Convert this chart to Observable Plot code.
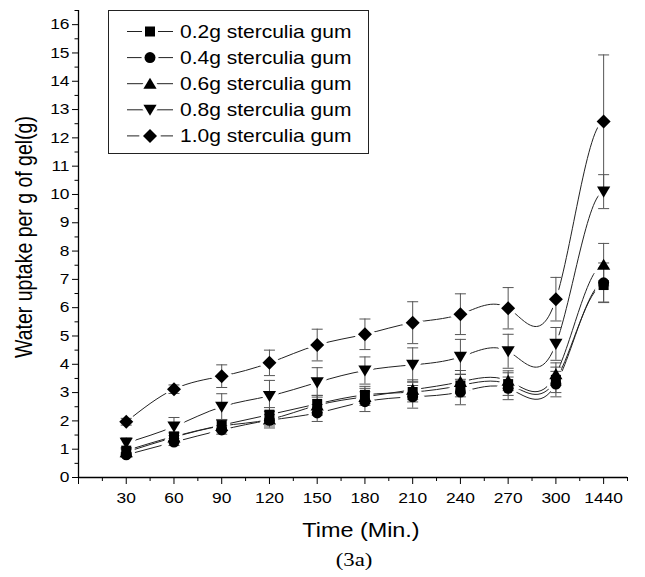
<!DOCTYPE html>
<html><head><meta charset="utf-8">
<script src="https://cdn.jsdelivr.net/npm/d3@7"></script>
<script src="https://cdn.jsdelivr.net/npm/@observablehq/plot@0.6"></script>
<style>
body{margin:0;background:#fff;font-family:"Liberation Sans",Arial,sans-serif}
#wrap{position:relative;width:645px}
#legend{position:absolute;left:108px;top:10px}
#cap{position:relative;width:645px;height:32px;font-family:"Liberation Serif","Times New Roman",serif;font-size:19px}
#cap span{position:absolute;left:354px;top:4px;transform:translateX(-50%) scaleX(1.2)}
</style>
</head><body>
<div id="wrap"></div>
<div id="cap"><span>(3a)</span></div>
<script>
// ---- data ----
const times = ["30","60","90","120","150","180","210","240","270","300","1440"];
const seriesNames = ["0.2g sterculia gum","0.4g sterculia gum","0.6g sterculia gum","0.8g sterculia gum","1.0g sterculia gum"];
const v02 = [0.95,1.45,1.85,2.22,2.60,2.92,3.02,3.25,3.30,3.45,6.80];
const e02 = [0.10,0.15,0.20,0.25,0.30,0.30,0.35,0.40,0.40,0.45,0.60];
const v04 = [0.80,1.25,1.68,2.02,2.28,2.68,2.85,3.02,3.15,3.30,6.88];
const e04 = [0.08,0.12,0.15,0.20,0.30,0.35,0.40,0.45,0.40,0.45,0.70];
const v06 = [0.90,1.42,1.82,2.05,2.55,2.85,3.10,3.38,3.42,3.65,7.52];
const e06 = [0.10,0.15,0.20,0.30,0.35,0.30,0.35,0.40,0.35,0.40,0.75];
const v08 = [1.22,1.80,2.50,2.88,3.36,3.78,3.98,4.26,4.46,4.72,10.10];
const e08 = [0.18,0.32,0.46,0.55,0.52,0.48,0.60,0.62,0.60,0.58,0.60];
const v10 = [1.97,3.12,3.58,4.05,4.68,5.06,5.47,5.77,5.98,6.30,12.58];
const e10 = [0.12,0.15,0.40,0.45,0.56,0.54,0.74,0.72,0.73,0.77,2.35];
const yTicks = d3.range(0,17);
const xTickLabels = [""].concat(times);

// ---- spline curve (natural start, zero-slope end) ----
function splineSlopes(X, Y) {
  const n = X.length, a = new Array(n).fill(0), b = new Array(n).fill(0), c = new Array(n).fill(0), r = new Array(n).fill(0);
  const d = i => (Y[i+1]-Y[i])/(X[i+1]-X[i]);
  b[0] = 2; c[0] = 1; r[0] = 3*d(0);
  for (let i = 1; i < n-1; i++) {
    const h0 = X[i]-X[i-1], h1 = X[i+1]-X[i];
    a[i] = 1/h0; b[i] = 2*(1/h0+1/h1); c[i] = 1/h1; r[i] = 3*(d(i-1)/h0 + d(i)/h1);
  }
  b[n-1] = 1; a[n-1] = 0; r[n-1] = 0;
  for (let i = 1; i < n; i++) { const w = a[i]/b[i-1]; b[i] -= w*c[i-1]; r[i] -= w*r[i-1]; }
  const m = new Array(n);
  m[n-1] = r[n-1]/b[n-1];
  for (let i = n-2; i >= 0; i--) m[i] = (r[i]-c[i]*m[i+1])/b[i];
  return m;
}
function SplineCurve(ctx){ this._context = ctx; }
SplineCurve.prototype = {
  areaStart(){ this._line = 0; }, areaEnd(){ this._line = NaN; },
  lineStart(){ this._x = []; this._y = []; },
  point(x, y){ this._x.push(+x); this._y.push(+y); },
  lineEnd(){
    const X = this._x, Y = this._y, n = X.length, cx = this._context;
    if (n) { if (this._line) cx.lineTo(X[0], Y[0]); else cx.moveTo(X[0], Y[0]); }
    if (n === 2) cx.lineTo(X[1], Y[1]);
    else if (n > 2) {
      const m = splineSlopes(X, Y);
      for (let i = 0; i < n-1; i++) {
        const h = X[i+1]-X[i];
        cx.bezierCurveTo(X[i]+h/3, Y[i]+m[i]*h/3, X[i+1]-h/3, Y[i+1]-m[i+1]*h/3, X[i+1], Y[i+1]);
      }
    }
    if (this._line || (this._line !== 0 && n === 1)) cx.closePath();
    this._line = 1 - this._line;
  }
};
const splineCurve = ctx => new SplineCurve(ctx);

// ---- symbols ----
const hs = s => Math.sqrt(s/Math.PI);
const symSquare = {draw(c,s){const h=hs(s); c.moveTo(-h,-h); c.lineTo(h,-h); c.lineTo(h,h); c.lineTo(-h,h); c.closePath();}};
const symCircle = {draw(c,s){const r=hs(s); c.moveTo(r,0); c.arc(0,0,r,0,2*Math.PI);}};
const symTriUp = {draw(c,s){const h=hs(s); c.moveTo(0,-h); c.lineTo(h*1.1,h*0.85); c.lineTo(-h*1.1,h*0.85); c.closePath();}};
const symTriDown = {draw(c,s){const h=hs(s); c.moveTo(0,h); c.lineTo(h*1.1,-h*0.85); c.lineTo(-h*1.1,-h*0.85); c.closePath();}};
const symDiamond = {draw(c,s){const h=hs(s); c.moveTo(0,-h); c.lineTo(h,0); c.lineTo(0,h); c.lineTo(-h,0); c.closePath();}};
const symCap = {draw(c,s){const h=hs(s); c.moveTo(-h,0); c.lineTo(h,0);}};

const series = [
  {name: seriesNames[0], values: v02, errors: e02, symbol: symSquare, r: 5},
  {name: seriesNames[1], values: v04, errors: e04, symbol: symCircle, r: 5.5},
  {name: seriesNames[2], values: v06, errors: e06, symbol: symTriUp, r: 6},
  {name: seriesNames[3], values: v08, errors: e08, symbol: symTriDown, r: 6},
  {name: seriesNames[4], values: v10, errors: e10, symbol: symDiamond, r: 7}
];
const rows = series.flatMap(s => times.map((t,i) => ({series: s.name, x: i+1, y: s.values[i], e: s.errors[i]})));
const sub = name => rows.filter(d => d.series === name);

const font = {fontFamily: "Liberation Sans, Arial, sans-serif"};
const marks = [
  Plot.line(rows, {x: "x", y: "y", z: "series", curve: splineCurve, stroke: "#222", strokeWidth: 1}),
  ...series.map(s => Plot.dot(sub(s.name), {x: "x", y: "y", symbol: s.symbol, r: s.r, fill: "white", stroke: "white", strokeWidth: 7})),
  Plot.ruleX(rows, {x: "x", y1: d => d.y - d.e, y2: d => d.y + d.e, stroke: "#555", strokeWidth: 1}),
  Plot.dot(rows, {x: "x", y: d => d.y - d.e, symbol: symCap, r: 5.5, fill: "none", stroke: "#555", strokeWidth: 1}),
  Plot.dot(rows, {x: "x", y: d => d.y + d.e, symbol: symCap, r: 5.5, fill: "none", stroke: "#555", strokeWidth: 1}),
  ...series.map(s => Plot.dot(sub(s.name), {x: "x", y: "y", symbol: s.symbol, r: s.r, fill: "black", stroke: "none"})),
  Plot.axisX({ticks: d3.range(0,12), tickFormat: i => xTickLabels[i], tickSize: 7, tickPadding: 8, fontSize: 14.5, label: null, ...font}),
  Plot.axisX({ticks: d3.range(0.5,12,1), tickFormat: () => "", tickSize: 4, label: null}),
  Plot.axisY({ticks: yTicks, tickFormat: d => d, tickSize: 6, tickPadding: 3, fontSize: 14.5, label: null, ...font}),
  Plot.axisY({ticks: d3.range(0.5,17,1), tickFormat: () => "", tickSize: 3.5, label: null}),
  Plot.ruleX([0], {stroke: "black", strokeWidth: 1.3}),
  Plot.ruleY([0], {stroke: "black", strokeWidth: 1.3}),
  Plot.text(["Time (Min.)"], {frameAnchor: "bottom", dx: 8, dy: 59, fontSize: 19.5, fill: "black", ...font}),
  Plot.text(["Water uptake per g of gel(g)"], {frameAnchor: "left", textAnchor: "middle", rotate: -90, dx: -54, dy: -7, fontSize: 19.5, fill: "black", ...font})
];

const chart = Plot.plot({
  width: 645, height: 545,
  marginLeft: 78, marginRight: 18, marginTop: 10, marginBottom: 68,
  x: {domain: [0, 11.5]},
  y: {domain: [0, 16.5]},
  style: {background: "white", color: "black", ...font},
  marks
});
// the reference text is drawn horizontally widened; widen each label around its anchor
d3.select(chart).selectAll("text").each(function() {
  const t = this.getAttribute("transform");
  if (!t) return;
  this.setAttribute("transform", t + (t.includes("rotate") ? " scale(1,1.2)" : " scale(1.2,1)"));
});
document.getElementById("wrap").appendChild(chart);

// ---- legend overlay ----
const lg = d3.select("#wrap").append("svg").attr("id","legend").attr("width",261).attr("height",144);
lg.append("rect").attr("x",0.5).attr("y",0.5).attr("width",260).attr("height",143).attr("fill","white").attr("stroke","#222");
series.forEach((s,i) => {
  const y = 21.5 + i*26.1;
  const g = lg.append("g").attr("transform", `translate(0,${y})`);
  g.append("line").attr("x1",19).attr("x2",65).attr("y1",0).attr("y2",0).attr("stroke","#222");
  const sz = Math.PI*s.r*s.r;
  g.append("path").attr("transform","translate(42,0)").attr("d", d3.symbol(s.symbol, sz)()).attr("fill","white").attr("stroke","white").attr("stroke-width",6);
  g.append("path").attr("transform","translate(42,0)").attr("d", d3.symbol(s.symbol, sz)()).attr("fill","black");
  g.append("text").attr("transform","translate(72,0) scale(1.2,1)").attr("dy","0.35em").attr("font-size",17.5).attr("font-family","Liberation Sans, Arial, sans-serif").text(s.name);
});
</script>
</body></html>
